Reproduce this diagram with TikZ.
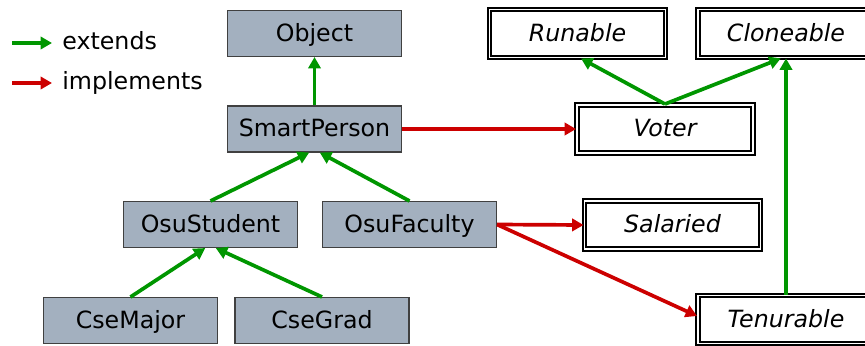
\documentclass[tikz,border=0pt]{standalone}
\usepackage{fontspec}
\setmainfont{DejaVu Sans}
\usepackage{xcolor}
\usepackage{tikz}
\usetikzlibrary{arrows.meta}

\definecolor{classfill}{RGB}{163,176,191}
\definecolor{extgreen}{RGB}{0,150,0}
\definecolor{implred}{RGB}{204,0,0}

\begin{document}
\begin{tikzpicture}[
    cls/.style={draw=black!75, line width=0.6pt, fill=classfill, minimum width=3.48cm, minimum height=0.92cm, font=\fontsize{13.5}{16}\selectfont, text height=1.9ex, text depth=0.3ex, inner sep=0pt},
    iface/.style={draw, double, line width=1.1pt, double distance=0.9pt, minimum width=3.52cm, minimum height=0.96cm, font=\fontsize{13.5}{16}\selectfont\itshape, text height=1.9ex, text depth=0.3ex, inner sep=0pt},
    legtext/.style={font=\fontsize{13.5}{16}\selectfont, anchor=base west, inner sep=0pt},
    ext/.style={extgreen, line width=2.1pt, -{Triangle[length=6.5pt,width=7pt]}},
    impl/.style={implred, line width=2.1pt, -{Triangle[length=6.5pt,width=7pt]}},
]
\useasboundingbox (0,0) rectangle (17.3,-6.9);
\clip (0,0) rectangle (17.3,-6.9);

% legend
\coordinate (ext0) at (0.24,-0.86);
\coordinate (ext1) at (1.04,-0.86);
\coordinate (imp0) at (0.24,-1.66);
\coordinate (imp1) at (1.04,-1.66);
\draw[ext] (ext0) -- (ext1);
\draw[impl] (imp0) -- (imp1);
\node[legtext] (extl) at (1.24,-0.98) {extends};
\node[legtext] (impl) at (1.24,-1.78) {implements};

% classes
\node[cls] (obj) at (6.29,-0.67) {Object};
\node[cls] (sp) at (6.29,-2.58) {SmartPerson};
\node[cls] (os) at (4.21,-4.49) {OsuStudent};
\node[cls] (of) at (8.19,-4.49) {OsuFaculty};
\node[cls] (cm) at (2.61,-6.41) {CseMajor};
\node[cls] (cg) at (6.44,-6.41) {CseGrad};

% interfaces
\node[iface] (run) at (11.55,-0.67) {Runable};
\node[iface] (cl) at (15.72,-0.67) {Cloneable};
\node[iface] (vt) at (13.30,-2.58) {Voter};
\node[iface] (sal) at (13.45,-4.50) {Salaried};
\node[iface] (tn) at (15.72,-6.39) {Tenurable};

% extends
\draw[ext] (sp) -- (obj);
\draw[ext] (os.north) -- ([xshift=-3pt]sp.south);
\draw[ext] (of.north) -- ([xshift=3pt]sp.south);
\draw[ext] (cm.north) -- ([xshift=-3pt]os.south);
\draw[ext] (cg.north) -- ([xshift=3pt]os.south);
\draw[ext] (vt.north) -- ([xshift=2pt]run.south);
\draw[ext] (vt.north) -- ([xshift=-3pt]cl.south);
\draw[ext] (tn.north) -- (cl.south);

% implements
\draw[impl] (sp) -- (vt);
\draw[impl] (of.east) -- (sal.west);
\draw[impl] (of.east) -- ([yshift=2pt]tn.west);
\end{tikzpicture}
\end{document}
